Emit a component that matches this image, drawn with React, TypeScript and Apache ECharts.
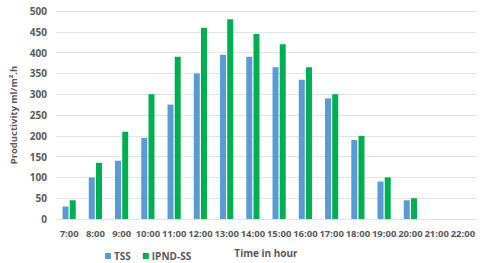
import React, { useEffect, useRef } from "react";
import * as echarts from "echarts";

const categories = ["7:00","8:00","9:00","10:00","11:00","12:00","13:00","14:00","15:00","16:00","17:00","18:00","19:00","20:00","21:00","22:00"];
const tss = [30,100,140,195,275,350,395,390,365,335,290,190,90,45,0,0];
const ipnd = [45,135,210,300,390,460,480,445,420,365,300,200,100,50,0,0];

const FONT = "'Open Sans', sans-serif";
const TXT = "#595959";

export default function App() {
  const ref = useRef<HTMLDivElement>(null);
  useEffect(() => {
    const chart = echarts.init(ref.current!, null, { renderer: "svg" });
    chart.setOption({
      animation: false,
      backgroundColor: "#ffffff",
      textStyle: { fontFamily: FONT },
      grid: { left: 53, right: 4, top: 11, bottom: 39 },
      legend: {
        data: ["TSS", "IPND-SS"],
        left: 100,
        top: 246,
        itemWidth: 6,
        itemHeight: 6,
        itemGap: 12,
        icon: "rect",
        textStyle: { fontFamily: FONT, fontSize: 10, fontWeight: "bold", color: TXT, padding: [0, 0, 0, -2] },
      },
      xAxis: {
        type: "category",
        data: categories,
        name: "Time in hour",
        nameLocation: "middle",
        nameGap: 29,
        nameTextStyle: { fontFamily: FONT, fontSize: 10, fontWeight: "bold", color: TXT },
        axisLine: { show: false },
        axisTick: { show: false },
        axisLabel: { interval: 0, fontFamily: FONT, fontSize: 9.5, fontWeight: "bold", color: TXT, margin: 9 },
      },
      yAxis: {
        type: "value",
        min: 0,
        max: 500,
        interval: 50,
        name: "Productivity ml/m².h",
        nameLocation: "middle",
        nameGap: 38,
        nameTextStyle: { fontFamily: FONT, fontSize: 9.5, fontWeight: "bold", color: TXT },
        axisLine: { show: false },
        axisTick: { show: false },
        axisLabel: { fontFamily: FONT, fontSize: 10, fontWeight: "bold", color: TXT, margin: 9 },
        splitLine: { lineStyle: { color: "#e3e3e3", width: 1 } },
      },
      series: [
        {
          name: "TSS",
          type: "bar",
          data: tss,
          barWidth: 6,
          barGap: "20%",
          itemStyle: { color: "#5B9BD5" },
        },
        {
          name: "IPND-SS",
          type: "bar",
          data: ipnd,
          barWidth: 6,
          itemStyle: { color: "#00B050" },
        },
      ],
    });
    return () => chart.dispose();
  }, []);
  return <div ref={ref} style={{ width: 480, height: 263, position: "absolute", left: 0, top: 0 }} />;
}
